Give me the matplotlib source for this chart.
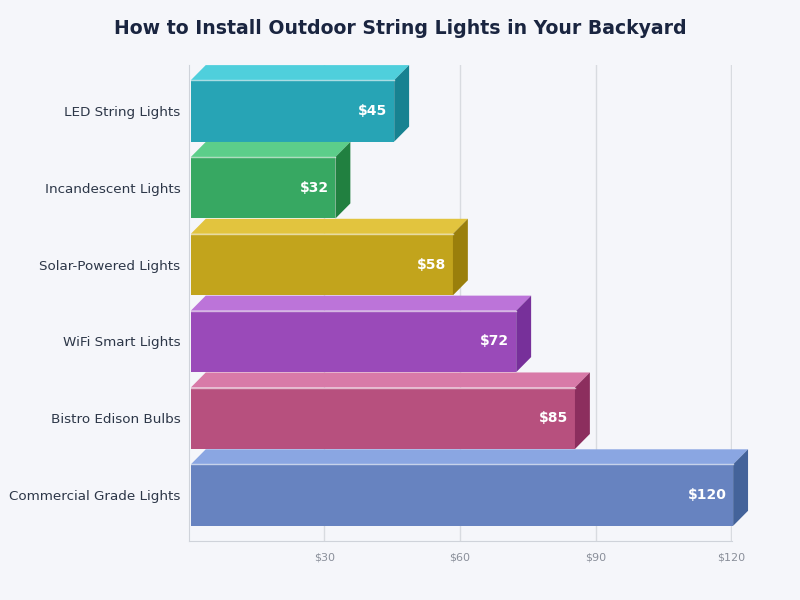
import matplotlib.pyplot as plt
from matplotlib.patches import Polygon, Rectangle

categories = ["LED String Lights", "Incandescent Lights", "Solar-Powered Lights",
              "WiFi Smart Lights", "Bistro Edison Bulbs", "Commercial Grade Lights"]
costs = [45, 32, 58, 72, 85, 120]
front_colors = ["#27a4b5", "#37a862", "#c2a41c", "#9a4ab9", "#b7507e", "#6783c0"]
top_colors = ["#4fcfdc", "#5cce8a", "#e2c43e", "#bc74d9", "#d87aa8", "#8aa6e2"]
side_colors = ["#178291", "#218040", "#9a7f0b", "#77309a", "#8c2e5e", "#44639a"]
ticks = [30, 60, 90, 120]

bg = "#f5f6fa"
fig = plt.figure(figsize=(8, 6), dpi=100, facecolor=bg)
ax = fig.add_axes([0.236, 0.098, 0.679, 0.794], facecolor=bg)

h = 0.8
dx, dy = 3.3, 0.196  # depth offset in data units
x0 = 0.45  # small gap between spine and bars

for i, (v, fc, tc, sc) in enumerate(zip(costs, front_colors, top_colors, side_colors)):
    y0, y1 = i - h / 2, i + h / 2  # y0 is the upper edge (axis inverted)
    x1 = x0 + v
    ax.add_patch(Rectangle((x0, y0), v, h, facecolor=fc, edgecolor="none", zorder=3, clip_on=False))
    ax.add_patch(Polygon([(x0, y0), (x0 + dx, y0 - dy), (x1 + dx, y0 - dy), (x1, y0)],
                         facecolor=tc, edgecolor="none", zorder=3, clip_on=False))
    ax.add_patch(Polygon([(x1, y0), (x1 + dx, y0 - dy), (x1 + dx, y1 - dy), (x1, y1)],
                         facecolor=sc, edgecolor="none", zorder=3, clip_on=False))
    ax.plot([x0, x1], [y0, y0], color="white", lw=1, alpha=0.6, zorder=4, clip_on=False)
    ax.text(x1 - 1.5, i, f"${v}", ha="right", va="center", color="white",
            fontsize=10, fontweight="bold", zorder=5)

ax.set_xlim(0, 120.2)
ax.set_ylim(5.6, -0.6)
ax.set_yticks(range(len(categories)))
ax.set_yticklabels(categories, fontsize=9.7, color="#2d3748")
ax.set_xticks(ticks)
ax.set_xticklabels([f"${t}" for t in ticks], fontsize=8, color="#8a8f9a")
ax.tick_params(length=0)
ax.tick_params(axis="y", pad=6)
ax.tick_params(axis="x", pad=8)
ax.grid(axis="x", color="#d8dbe0", lw=1, zorder=0)
ax.set_axisbelow(True)
for s in ["top", "right"]:
    ax.spines[s].set_visible(False)
for s in ["left", "bottom"]:
    ax.spines[s].set_color("#cfd3da")

fig.text(0.5, 0.953, "How to Install Outdoor String Lights in Your Backyard",
         ha="center", va="center", fontsize=13.6, fontweight="bold", color="#1a2540")

fig.savefig("out.png", dpi=100, facecolor=bg)
